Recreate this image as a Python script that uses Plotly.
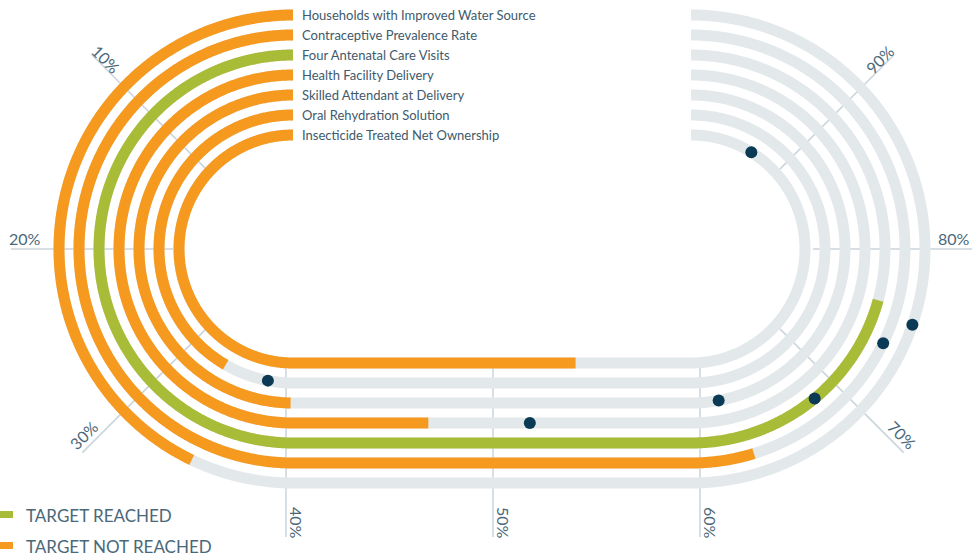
import numpy as np
import plotly.graph_objects as go

# lanes, outermost first
indicators = [
    "Households with Improved Water Source",
    "Contraceptive Prevalence Rate",
    "Four Antenatal Care Visits",
    "Health Facility Delivery",
    "Skilled Attendant at Delivery",
    "Oral Rehydration Solution",
    "Insecticide Treated Net Ownership",
]
achieved = [34.3, 63.8, 76.6, 46.8, 39.8, 33.3, 54.2]
targets = [75.8, 74.2, 68.8, 51.9, 62.3, 37.6, 92.9]

tick_values = [10, 20, 30, 40, 50, 60, 70, 80, 90]
tick_labels = ["10%", "20%", "30%", "40%", "50%", "60%", "70%", "80%", "90%"]
tick_angles = [45, 0, -45, 90, 90, 90, 45, 0, -45]

ORANGE = "#F6991F"
GREEN = "#A9BC38"
GREY = "#E3E8EA"
DOT = "#0A3A55"
GRID = "#CAD5DB"
TXT = "#3E5A6B"

# track geometry, in pixel units
CX1, CX2, CY = 293, 691, 249
GX1, GX2 = 286, 700          # the grid fans out from slightly wider centres
R_OUT, LANE = 234, 20
radii = [R_OUT - i * LANE for i in range(len(indicators))]


def pos(p, r, c1=CX1, c2=CX2):
    # percent -> point on a stadium lane of radius r (0% top-left, counter-clockwise)
    p = np.asarray(p, float)
    r = np.asarray(r, float)
    th = np.clip(p, 0, 40) / 40 * np.pi
    ph = (np.clip(p, 60, 100) - 60) / 40 * np.pi
    x = np.where(p <= 40, c1 - r * np.sin(th),
                 np.where(p >= 60, c2 + r * np.sin(ph), c1 + (p - 40) / 20 * (c2 - c1)))
    y = np.where(p <= 40, CY - r * np.cos(th),
                 np.where(p >= 60, CY + r * np.cos(ph), CY + r))
    return x, y


def path(v, r):
    ps = np.append(np.arange(0, v, 0.1), v)
    return pos(ps, r)


fig = go.Figure()

# gridlines
gx, gy = [], []
for t in tick_values:
    r_end = 275 if (t <= 20 or t >= 80) else 288
    x, y = pos([t, t], [113, r_end], GX1, GX2)
    gx += list(x) + [None]
    gy += list(y) + [None]
fig.add_trace(go.Scatter(x=gx, y=gy, mode="lines", line=dict(color=GRID, width=1.5),
                         hoverinfo="skip"))

# grey full lanes
tx, ty = [], []
for r in radii:
    x, y = path(100, r)
    tx += list(x) + [None]
    ty += list(y) + [None]
fig.add_trace(go.Scatter(x=tx, y=ty, mode="lines",
                         line=dict(color=GREY, width=11, simplify=False),
                         hoverinfo="skip"))

# achieved part
for name, v, t, r in zip(indicators, achieved, targets, radii):
    x, y = path(v, r)
    fig.add_trace(go.Scatter(x=x, y=y, mode="lines", name=name,
                             line=dict(color=GREEN if v >= t else ORANGE, width=11,
                                       simplify=False),
                             hoverinfo="skip"))

# targets
dx, dy = pos(targets, radii)
fig.add_trace(go.Scatter(x=dx, y=dy, mode="markers",
                         marker=dict(color=DOT, size=12, line=dict(width=0)),
                         text=indicators, hovertemplate="%{text}<extra></extra>"))

annotations = []
for name, r in zip(indicators, radii):
    annotations.append(dict(x=300, y=CY - r, text=name, showarrow=False, xanchor="left",
                            yanchor="middle", font=dict(family="Lato", size=13, color=TXT)))

for t, lab, ang in zip(tick_values, tick_labels, tick_angles):
    top = t <= 20 or t >= 80
    x, y = pos(t, 261 if top else 274, GX1, GX2)
    a = np.radians(ang)
    off = 7 if ang != 0 and top else 11
    ux, uy = np.sin(a), -np.cos(a)
    xx = min(float(x) + off * ux, 954)
    annotations.append(dict(x=xx, y=float(y) + off * uy, text=lab,
                            showarrow=False, textangle=ang,
                            font=dict(family="Lato", size=16, color="#4A6879")))

legend = [("TARGET REACHED", GREEN, 515), ("TARGET NOT REACHED", ORANGE, 546)]
shapes = []
for lab, col, yy in legend:
    shapes.append(dict(type="rect", x0=0, x1=13, y0=yy - 4, y1=yy + 3, fillcolor=col,
                       line=dict(width=0)))
    annotations.append(dict(x=24, y=yy, text=lab, showarrow=False, xanchor="left",
                            yanchor="middle", font=dict(family="Lato", size=17, color="#4A6879")))

fig.update_layout(
    width=972, height=559,
    margin=dict(l=0, r=0, t=0, b=0),
    paper_bgcolor="white", plot_bgcolor="white",
    showlegend=False,
    xaxis=dict(range=[0, 972], visible=False, fixedrange=True),
    yaxis=dict(range=[559, 0], visible=False, fixedrange=True),
    annotations=annotations,
    shapes=shapes,
)

fig.write_html("out.html", config=dict(displayModeBar=False),
               post_script="document.body.style.margin='0';document.body.style.overflow='hidden';")
